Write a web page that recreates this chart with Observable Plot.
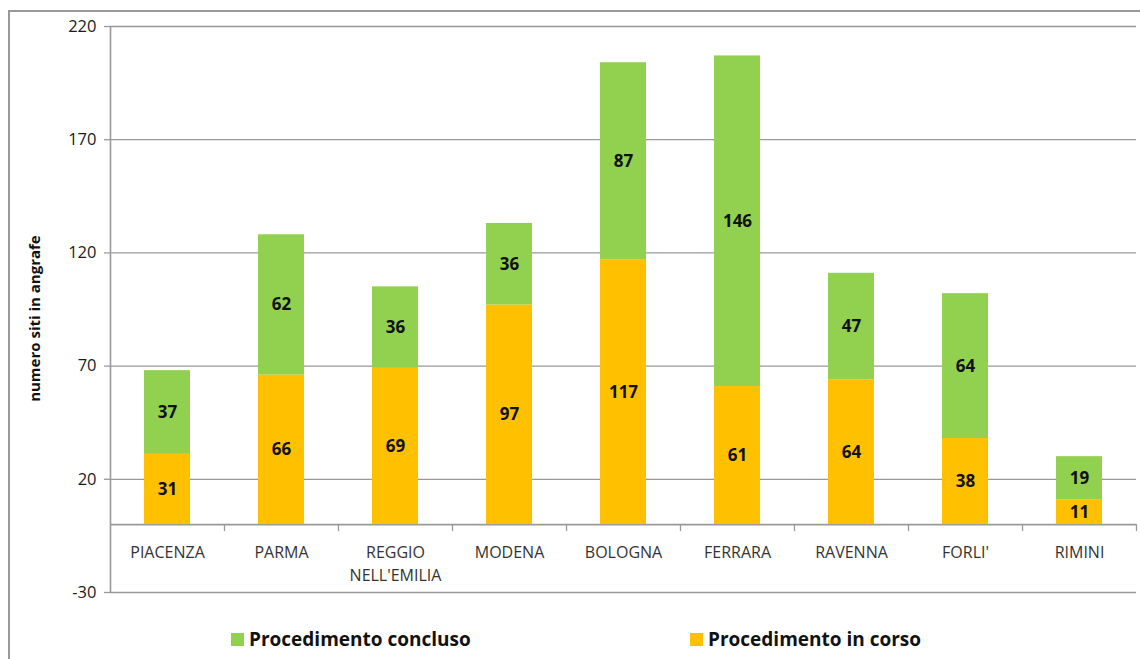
<!DOCTYPE html>
<html>
<head>
<meta charset="utf-8">
<script src="https://cdn.jsdelivr.net/npm/d3@7"></script>
<script src="https://cdn.jsdelivr.net/npm/@observablehq/plot@0.6"></script>
<style>
  html, body { margin: 0; padding: 0; background: #fff; }
  body { width: 1140px; height: 659px; overflow: hidden; position: relative; font-family: "Open Sans", sans-serif; }
  #frame { position: absolute; left: 8px; top: 10px; width: 1200px; height: 700px; border-left: 2px solid #999; border-top: 2px solid #999; box-sizing: border-box; }
  #chart { position: absolute; left: 0; top: 0; }
  #legend { position: absolute; top: 626px; left: 0; width: 1140px; height: 28px; }
  .item { position: absolute; top: 0; display: flex; align-items: center; font-weight: bold; font-size: 19px; color: #111; white-space: nowrap; }
  .sw { width: 13px; height: 13px; margin-right: 5px; display: inline-block; }
</style>
</head>
<body>
<div id="frame"></div>
<div id="chart"></div>
<div id="legend">
  <div class="item" style="left:231px"><span class="sw" style="background:#92D050"></span><span id="l1"></span></div>
  <div class="item" style="left:690px"><span class="sw" style="background:#FFC000"></span><span id="l2"></span></div>
</div>
<script>
const categories = ["PIACENZA", "PARMA", "REGGIO\nNELL'EMILIA", "MODENA", "BOLOGNA", "FERRARA", "RAVENNA", "FORLI'", "RIMINI"];
const inCorso = [31, 66, 69, 97, 117, 61, 64, 38, 11];
const concluso = [37, 62, 36, 36, 87, 146, 47, 64, 19];
const seriesNames = ["Procedimento in corso", "Procedimento concluso"];
const seriesColors = ["#FFC000", "#92D050"];
const yTicks = [-30, 20, 70, 120, 170, 220];
const yLabel = "numero siti in angrafe";

document.getElementById("l1").textContent = seriesNames[1];
document.getElementById("l2").textContent = seriesNames[0];

const data = [];
categories.forEach((c, i) => {
  data.push({cat: c, serie: seriesNames[0], value: inCorso[i]});
  data.push({cat: c, serie: seriesNames[1], value: concluso[i]});
});

const W = 1140, H = 612;
const mLeft = 110, mRight = 4, mTop = 26, mBottom = H - 592;
const step = (W - mLeft - mRight) / categories.length;

const chart = Plot.plot({
  width: W,
  height: H,
  marginLeft: mLeft,
  marginRight: mRight,
  marginTop: mTop,
  marginBottom: mBottom,
  style: {background: "transparent", fontFamily: "Open Sans, sans-serif"},
  x: {domain: categories, paddingInner: 0.6, paddingOuter: 0.3, axis: null},
  y: {domain: [-30, 220], ticks: yTicks},
  color: {domain: seriesNames, range: seriesColors},
  marks: [
    Plot.gridY(yTicks, {stroke: "#999", strokeOpacity: 1, strokeWidth: 1.3}),
    Plot.axisY(yTicks, {tickSize: 6, tickPadding: 8, fontSize: 16.5, label: null, stroke: "#999", strokeWidth: 1.3, fill: "#1a1a1a", tickFormat: d => String(d)}),
    Plot.ruleY([0], {stroke: "#999", strokeWidth: 1.6}),
    Plot.barY(data, Plot.stackY({x: "cat", y: "value", fill: "serie", order: seriesNames})),
    Plot.text(data, Plot.stackY({x: "cat", y: "value", z: "serie", order: seriesNames, text: "value", fontWeight: "bold", fontSize: 17, fill: "#111"})),
    Plot.ruleX(categories, {x: d => d, y1: 0, y2: 0, insetBottom: -7, dx: step / 2, stroke: "#999", strokeWidth: 1.3}),
    Plot.text(categories, {x: d => d, y: 0, dy: 17, text: d => d, lineAnchor: "top", fontSize: 16, fill: "#333", lineHeight: 1.45}),
    Plot.ruleX([categories[0]], {x: d => d, dx: -step / 2, y1: -30, y2: 220, stroke: "#999", strokeWidth: 1.6}),
    Plot.text([yLabel], {frameAnchor: "left", y: () => 91, dx: -75, text: d => d, rotate: -90, textAnchor: "middle", fontWeight: "bold", fontSize: 15, fill: "#111"})
  ]
});
document.getElementById("chart").appendChild(chart);
</script>
</body>
</html>
